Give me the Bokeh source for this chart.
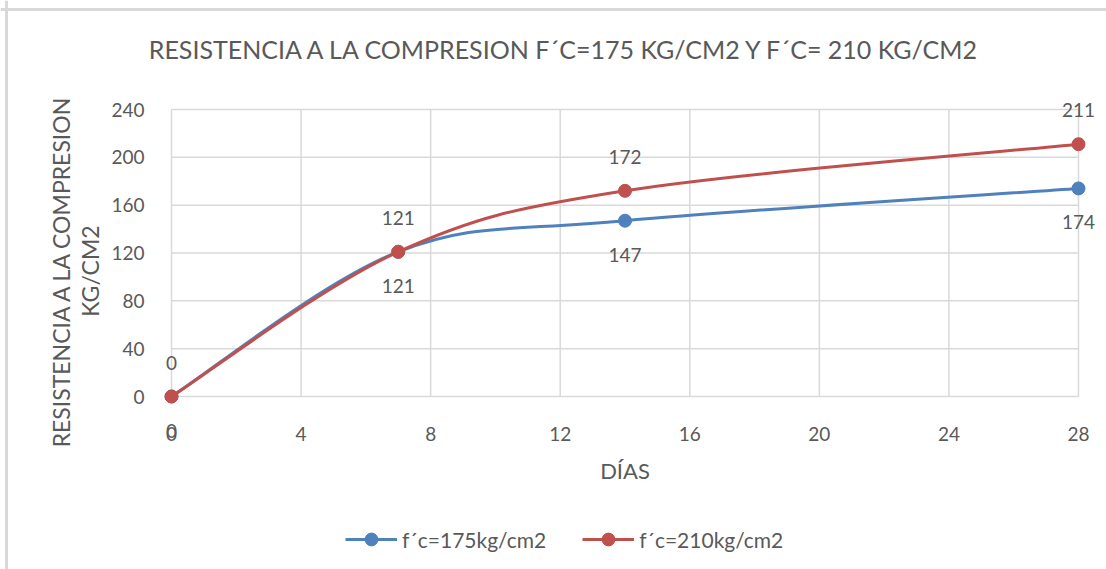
import numpy as np
from bokeh.plotting import figure
from bokeh.models import Range1d, FixedTicker, Label, Legend, LegendItem, ColumnDataSource, Span
from bokeh.core.properties import value
from bokeh.embed import file_html
from bokeh.resources import INLINE

# ---- data ----
dias = [0, 7, 14, 28]
fc175 = [0, 121, 147, 174]
fc210 = [0, 121, 172, 211]
series_names = ["f´c=175kg/cm2", "f´c=210kg/cm2"]
colors = ["#4F81BD", "#C0504D"]
x_ticks = [0, 4, 8, 12, 16, 20, 24, 28]
y_ticks = [0, 40, 80, 120, 160, 200, 240]
title_text = "RESISTENCIA A LA COMPRESION F´C=175 KG/CM2 Y F´C= 210 KG/CM2"
x_label = "DÍAS"
y_label = "RESISTENCIA A LA COMPRESION\nKG/CM2"

FONT = "Lato"
GREY = "#595959"
GRID = "#d9d9d9"

W, H = 1106, 569
# plot-area placement in pixels (left, right, top, bottom)
PL, PR, PT, PB = 171, 1078, 109, 396
x0, x1 = x_ticks[0], x_ticks[-1]
y0, y1 = y_ticks[0], y_ticks[-1]
sx = (PR - PL) / (x1 - x0)
sy = (PB - PT) / (y1 - y0)
xr = Range1d(x0 - PL / sx, x1 + (W - PR) / sx)
yr = Range1d(y0 - (H - PB) / sy, y1 + PT / sy)

p = figure(width=W, height=H, output_backend="svg", toolbar_location=None,
           x_range=xr, y_range=yr, min_border=0)
p.outline_line_color = None
p.background_fill_color = "white"
p.border_fill_color = "white"
p.xgrid.visible = False
p.ygrid.visible = False

# chart-area border (top and left edges visible in the reference)
p.add_layout(Span(location=y1 + (PT - 9) / sy, dimension="width", line_color=GRID, line_width=3))
p.add_layout(Span(location=x0 - (PL - 6) / sx, dimension="height", line_color=GRID, line_width=3))

# gridlines
p.segment(x0=x_ticks, y0=[y0] * len(x_ticks), x1=x_ticks, y1=[y1] * len(x_ticks),
          line_color=GRID, line_width=1.5)
p.segment(x0=[x0] * len(y_ticks), y0=y_ticks, x1=[x1] * len(y_ticks), y1=y_ticks,
          line_color=GRID, line_width=1.5)

p.xaxis.ticker = FixedTicker(ticks=x_ticks)
p.yaxis.ticker = FixedTicker(ticks=y_ticks)
p.xaxis.fixed_location = y0
p.yaxis.fixed_location = x0
p.xaxis.bounds = (x0, x1)
p.yaxis.bounds = (y0 - 30, y1)
for ax in (p.xaxis, p.yaxis):
    ax.axis_line_color = None
    ax.major_tick_line_color = None
    ax.minor_tick_line_color = None
    ax.major_label_text_font = FONT
    ax.major_label_text_font_size = "19px"
    ax.major_label_text_color = GREY
    ax.axis_label_text_font = FONT
    ax.axis_label_text_font_size = "22px"
    ax.axis_label_text_color = GREY
    ax.axis_label_text_font_style = "normal"
p.xaxis.major_label_standoff = 24
p.yaxis.major_label_standoff = 21
p.xaxis.axis_label = x_label
p.xaxis.axis_label_standoff = 13
p.yaxis.axis_label = y_label
p.yaxis.axis_label_text_font_size = "23px"
p.yaxis.axis_label_standoff = 4
p.yaxis.axis_label_text_line_height = 1.05


def catmull_segments(xs, ys):
    xs = np.asarray(xs, float)
    ys = np.asarray(ys, float)
    n = len(xs)
    seg = dict(x0=[], y0=[], x1=[], y1=[], cx0=[], cy0=[], cx1=[], cy1=[])
    for i in range(n - 1):
        im = max(i - 1, 0)
        ip = min(i + 2, n - 1)
        seg["x0"].append(xs[i]); seg["y0"].append(ys[i])
        seg["x1"].append(xs[i + 1]); seg["y1"].append(ys[i + 1])
        seg["cx0"].append(xs[i] + (xs[i + 1] - xs[im]) / 6)
        seg["cy0"].append(ys[i] + (ys[i + 1] - ys[im]) / 6)
        seg["cx1"].append(xs[i + 1] - (xs[ip] - xs[i]) / 6)
        seg["cy1"].append(ys[i + 1] - (ys[ip] - ys[i]) / 6)
    return seg

items = []
for vals, name, col, sign in [(fc175, series_names[0], colors[0], 1), (fc210, series_names[1], colors[1], -1)]:
    seg = ColumnDataSource(catmull_segments(dias, vals))
    p.bezier(x0="x0", y0="y0", x1="x1", y1="y1", cx0="cx0", cy0="cy0", cx1="cx1", cy1="cy1",
             source=seg, line_color=col, line_width=3)
    # one-point line: draws nothing on the chart, but gives the legend its line sample
    lr = p.line(x=dias[:1], y=vals[:1], line_color=col, line_width=3)
    sr = p.scatter(x=dias, y=vals, size=13, fill_color=col, line_color=col)
    p.text(x=dias, y=vals, text=[str(v) for v in vals], text_font=value(FONT), text_font_size="19px",
           text_color=GREY, text_align="center", text_baseline="middle", y_offset=sign * 34)
    items.append(LegendItem(label=name, renderers=[lr, sr]))

legend = Legend(items=items, orientation="horizontal", location=(345, 14),
                label_text_font=FONT, label_text_font_size="21px", label_text_color=GREY,
                glyph_width=52, glyph_height=32, label_standoff=5, spacing=36,
                border_line_color=None, background_fill_alpha=0, padding=0, margin=0)
p.add_layout(legend, "center")

title = Label(x=565, y=H - 48, x_units="screen", y_units="screen", text=title_text,
              text_font=FONT, text_font_size="25px", text_color=GREY,
              text_align="center", text_baseline="middle")
p.add_layout(title)

open("out.html", "w").write(file_html(p, INLINE))
